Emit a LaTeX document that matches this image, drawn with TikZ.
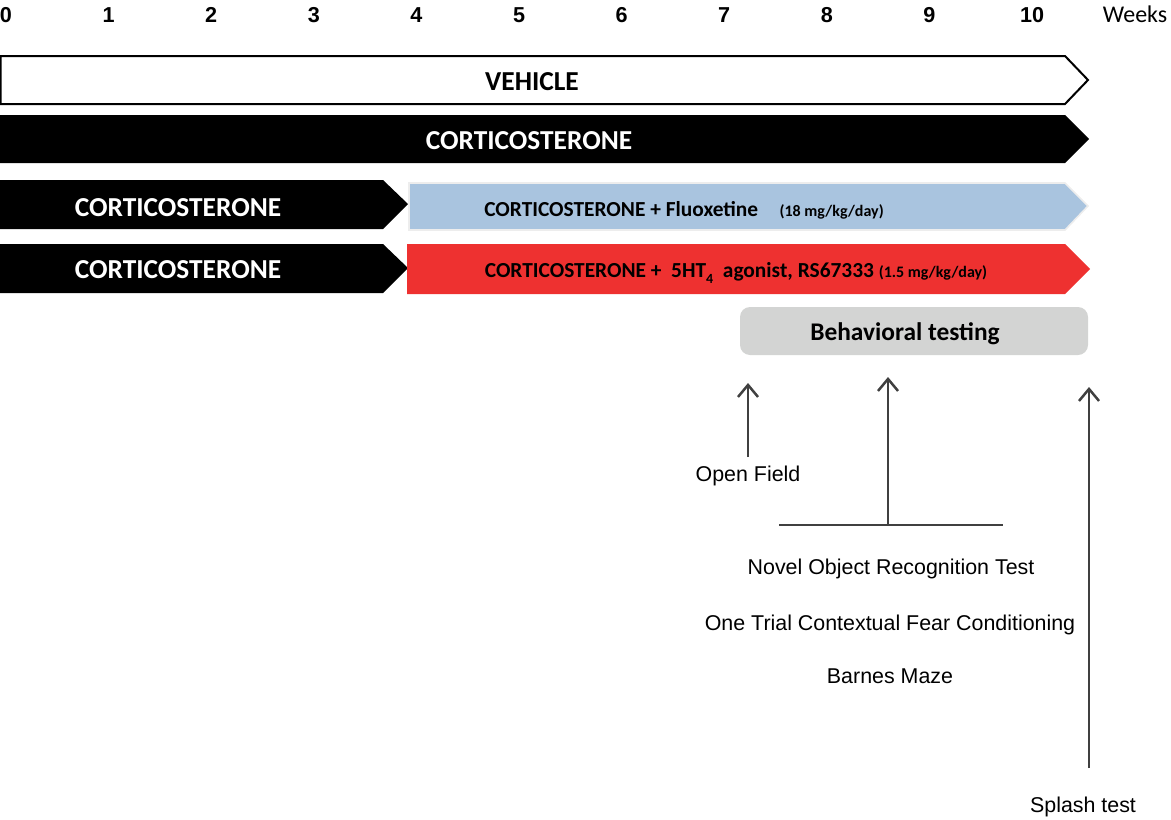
\documentclass[tikz,border=0pt]{standalone}
\usepackage{fontspec}
\newfontfamily\calibri{Carlito}
\newfontfamily\arial{Liberation Sans}
\usetikzlibrary{arrows.meta}
\definecolor{fluoblue}{HTML}{A9C4DF}
\definecolor{rsred}{HTML}{EE3130}
\definecolor{testgray}{HTML}{D3D4D3}
\definecolor{arrowgray}{HTML}{404040}
\tikzset{
  weeknum/.style={anchor=base, inner sep=0pt, font=\arial\bfseries\fontsize{10.8}{12}\selectfont},
  bartext/.style={anchor=base, inner sep=0pt, font=\calibri\bfseries\fontsize{13.7}{16}\selectfont},
  drugtext/.style={anchor=base, inner sep=0pt, font=\calibri\bfseries\fontsize{10.7}{12}\selectfont},
  testlabel/.style={anchor=base, inner sep=0pt, font=\arial\fontsize{10.7}{12}\selectfont},
  conn/.style={arrowgray, line width=1.25pt},
}
\newcommand{\dosetext}[1]{{\fontsize{8}{9}\selectfont #1}}
\begin{document}
\begin{tikzpicture}[x=0.5pt, y=-0.5pt, >={Straight Barb[length=6pt,width=10pt]}]
    \useasboundingbox (0,0) rectangle (1171,819);

    % week axis
    \foreach \w in {0,...,10}
      \node[weeknum] (wk\w) at (6+102.6*\w, 22) {\w};
    \node[anchor=base, inner sep=0pt, font=\calibri\fontsize{12}{14}\selectfont] (weeks) at (1135,22) {Weeks};

    % vehicle
    \draw[line width=1pt, fill=white] (0.5,56) -- (1065,56) -- (1088,80) -- (1065,104) -- (0.5,104) -- cycle;
    \node[bartext] (vehicle) at (532,90) {VEHICLE};

    % corticosterone, 10 weeks
    \fill (0,115) -- (1065,115) -- (1089,139) -- (1065,163) -- (0,163) -- cycle;
    \node[bartext, white] (cort) at (529,149) {CORTICOSTERONE};

    % corticosterone then fluoxetine
    \fill (0,180) -- (383,180) -- (408,204) -- (383,229) -- (0,229) -- cycle;
    \node[bartext, white] (cortA) at (178,216) {CORTICOSTERONE};
    \filldraw[fill=fluoblue, draw=black!7, line width=0.8pt] (409,183) -- (1065,183) -- (1088,206) -- (1065,230) -- (409,230) -- cycle;
    \node[drugtext] (fluox) at (684,216) {CORTICOSTERONE + Fluoxetine\quad\dosetext{(18 mg/kg/day)}};

    % corticosterone then RS67333
    \fill (0,244) -- (383,244) -- (408,268) -- (383,293) -- (0,293) -- cycle;
    \node[bartext, white] (cortB) at (178,278) {CORTICOSTERONE};
    \fill[rsred] (407,244) -- (1065,244) -- (1090,269) -- (1065,294) -- (407,294) -- cycle;
    \node[drugtext] (rs) at (736,277) {CORTICOSTERONE +\ \ 5HT\raisebox{-3pt}{\fontsize{7}{8}\selectfont 4}\ \ agonist, RS67333 \dosetext{(1.5 mg/kg/day)}};

    % behavioral testing
    \node[fill=testgray, rounded corners=5pt, minimum width=174pt, minimum height=24pt, inner sep=0pt] (testbox) at (914,331) {};
    \node[bartext, font=\calibri\bfseries\fontsize{12.7}{15}\selectfont] (testing) at (905,340) {Behavioral testing};

    % tests and arrows
    \node[testlabel] (openfield) at (748,481) {Open Field};
    \coordinate (oftip) at (748,383);
    \draw[conn, ->, shorten <=4pt] (openfield.north) -- (oftip);

    \coordinate (brl) at (779,525);
    \coordinate (brr) at (1003,525);
    \coordinate (brm) at (888,525);
    \coordinate (brtip) at (888,377);
    \draw[conn] (brl) -- (brr);
    \draw[conn, ->] (brm) -- (brtip);
    \node[testlabel] (nor) at (891,574) {Novel Object Recognition Test};
    \node[testlabel] (fear) at (890,630) {One Trial Contextual Fear Conditioning};
    \node[testlabel] (barnes) at (890,683) {Barnes Maze};

    \node[testlabel] (splash) at (1083,812) {Splash test};
    \coordinate (spbot) at (1089,768);
    \coordinate (sptip) at (1089,387);
    \draw[conn, ->] (spbot) -- (sptip);
\end{tikzpicture}
\end{document}
